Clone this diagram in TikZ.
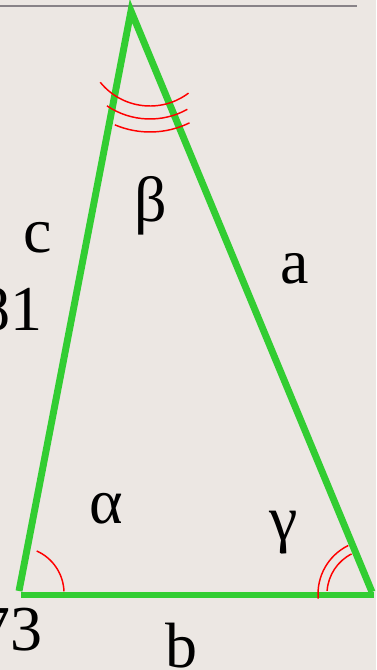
\documentclass[tikz,border=0pt]{standalone}
\usepackage{fontspec}
\setmainfont{Liberation Serif}
\definecolor{paper}{RGB}{236,231,227}
\definecolor{rule}{RGB}{136,131,136}
\definecolor{side}{RGB}{50,205,50}
\begin{document}
\begin{tikzpicture}[
    x=0.75pt, y=-0.75pt,
    every node/.style={font=\fontsize{48}{48}\selectfont, inner sep=0pt},
    sideline/.style={draw=side, line width=5.2pt},
    anglemark/.style={draw=red, line width=1.1pt},
    lbl/.style={anchor=base}
]
    % Frame and background
    \clip (0,0) rectangle (376,670);
    \fill[paper] (0,0) rectangle (376,670);
    \coordinate (ruleL) at (0,6);
    \coordinate (ruleR) at (357,6);
    \draw[rule, line width=1.5pt] (ruleL) -- (ruleR);

    % Corners of the triangle
    \coordinate (top) at (131,11);
    \coordinate (left) at (19,591);
    \coordinate (right) at (372,592);
    \coordinate (baseL) at (21,595);
    \coordinate (baseR) at (374,595);

    % Sides
    \draw[sideline, line join=miter] (left) -- (top) -- (right);
    \draw[sideline] (baseL) -- (baseR);

    % Angle marks
    \coordinate (betac) at (150,42);
    \draw[anglemark] (betac) ++(141:64) arc[start angle=141, end angle=53, radius=64];
    \draw[anglemark] (betac) ++(124:77) arc[start angle=124, end angle=61, radius=77];
    \draw[anglemark] (betac) ++(113:90) arc[start angle=113, end angle=64, radius=90];

    \coordinate (alphac) at (18,593);
    \draw[anglemark] (alphac) ++(-66:46) arc[start angle=-66, end angle=-2, radius=46];

    \coordinate (gammac) at (372,594);
    \draw[anglemark] (gammac) ++(175:54) arc[start angle=175, end angle=244, radius=54];
    \draw[anglemark] (gammac) ++(184:45) arc[start angle=184, end angle=243, radius=45];

    % Labels
    \node[lbl] (lblc) at (37.5,252) {c};
    \node[anchor=base east] (lblcval) at (43,330) {81};
    \node[lbl] (lblbeta) at (151,222) {β};
    \node[lbl] (lbla) at (294.5,283) {a};
    \node[lbl] (lblalpha) at (106,523) {α};
    \node[lbl] (lblgamma) at (284,540) {γ};
    \node[lbl] (lblb) at (181,667) {b};
    \node[anchor=base east] (lblbval) at (43,650) {73};
\end{tikzpicture}
\end{document}
